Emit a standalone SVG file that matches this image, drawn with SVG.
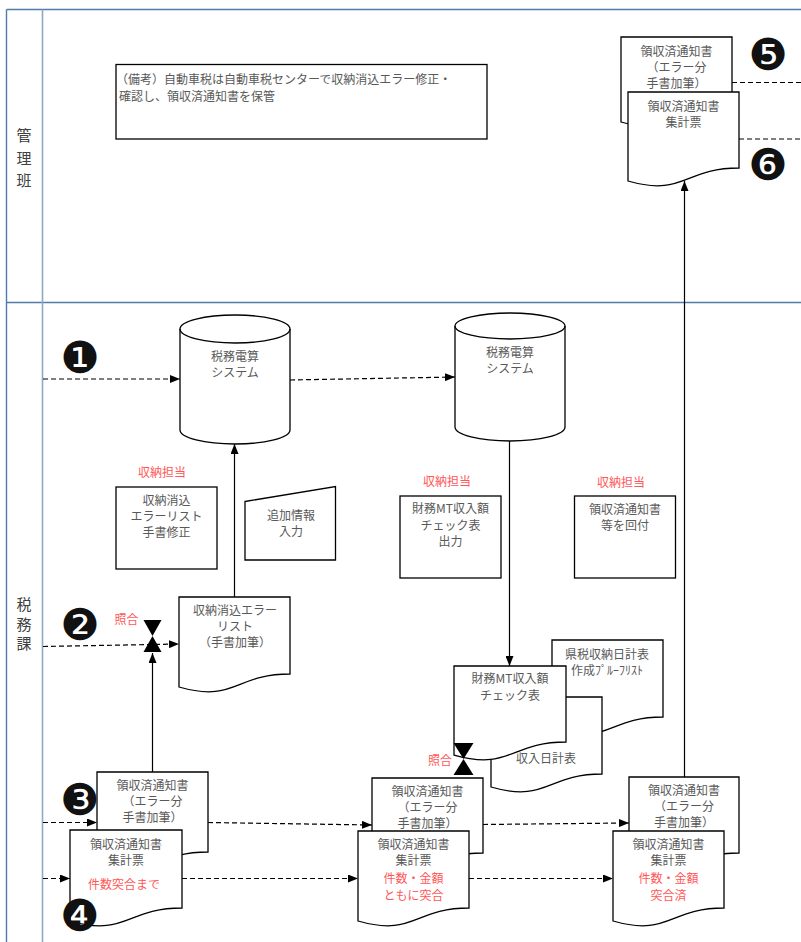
<svg xmlns="http://www.w3.org/2000/svg" width="801" height="942" viewBox="0 0 801 942">
<defs>
<marker id="ah" markerUnits="userSpaceOnUse" markerWidth="10" markerHeight="8" refX="10" refY="4" orient="auto"><path d="M0,0 L10,4 L0,8 Z" fill="#000"/></marker>
<style>
.lane{stroke:#4f7ba8;stroke-width:1.4;fill:none}
.lane2{stroke:#8aa9c9;stroke-width:1.6;fill:none}
.sh{fill:#fff;stroke:#000;stroke-width:1.3}
.t{font-family:"Noto Sans CJK JP",sans-serif;font-size:12px;fill:#595959;text-anchor:middle}
.r{font-family:"Noto Sans CJK JP",sans-serif;font-size:12px;fill:#ff5757;text-anchor:middle}
.ll{font-family:"Noto Sans CJK JP",sans-serif;font-size:15px;fill:#404040;text-anchor:middle}
.num{font-family:"DejaVu Sans",sans-serif;font-size:44px;fill:#111;text-anchor:middle}
.c{stroke:#000;stroke-width:1.2;fill:none}
.d{stroke:#000;stroke-width:1.2;fill:none;stroke-dasharray:5 3}
.hg{fill:#000}
</style>
</defs>
<rect width="801" height="942" fill="#fff"/>
<g id="lanes">
<line class="lane" x1="6.5" y1="9.5" x2="801" y2="9.5"/>
<line class="lane" x1="6.5" y1="302.5" x2="801" y2="302.5"/>
<line class="lane" x1="6.5" y1="9.5" x2="6.5" y2="942"/>
<line class="lane2" x1="42.5" y1="9.5" x2="42.5" y2="942"/>
<text class="ll" x="24" y="141">管</text>
<text class="ll" x="24" y="164">理</text>
<text class="ll" x="24" y="186">班</text>
<text class="ll" x="24" y="610">税</text>
<text class="ll" x="24" y="629.5">務</text>
<text class="ll" x="24" y="649">課</text>
</g>
<g id="note">
<rect class="sh" x="116" y="64.5" width="371" height="74.5"/>
<text class="t" style="text-anchor:start" x="116" y="84">（備考）自動車税は自動車税センターで収納消込エラー修正・</text>
<text class="t" style="text-anchor:start" x="119" y="101">確認し、領収済通知書を保管</text>
</g>
<g id="connectors">
<line class="d" x1="43" y1="379" x2="180" y2="379" marker-end="url(#ah)"/>
<line class="d" x1="290" y1="380" x2="455" y2="377" marker-end="url(#ah)"/>
<line class="c" x1="509.5" y1="441" x2="509.5" y2="666" marker-end="url(#ah)"/>
<line class="c" x1="234.5" y1="597" x2="234.5" y2="444" marker-end="url(#ah)"/>
<line class="c" x1="684.5" y1="777" x2="684.5" y2="181" marker-end="url(#ah)"/>
<line class="d" x1="43" y1="646.5" x2="179" y2="644" marker-end="url(#ah)"/>
<line class="c" x1="152.5" y1="772" x2="152.5" y2="653" marker-end="url(#ah)"/>
<line class="d" x1="43" y1="822.5" x2="97" y2="822.5" marker-end="url(#ah)"/>
<line class="d" x1="43" y1="878.5" x2="70" y2="878.5" marker-end="url(#ah)"/>
<line class="d" x1="208" y1="822.5" x2="372" y2="825" marker-end="url(#ah)"/>
<line class="d" x1="182" y1="878.5" x2="358" y2="878.5" marker-end="url(#ah)"/>
<line class="d" x1="483" y1="824.5" x2="629" y2="823" marker-end="url(#ah)"/>
<line class="d" x1="469" y1="878.5" x2="613" y2="878.5" marker-end="url(#ah)"/>
<line class="d" x1="732" y1="82.5" x2="801" y2="82.5"/>
<line class="d" x1="739" y1="139" x2="801" y2="139"/>
</g>
<g id="doc-tr1">
<path class="sh" d="M621,37 H732 V109 C676.5,109 676.5,138 621,122 Z"/>
<text class="t" x="676.5" y="56">領収済通知書</text>
<text class="t" x="676.5" y="72">（エラー分</text>
<text class="t" x="676.5" y="88">手書加筆）</text>
</g>
<g id="doc-tr2">
<path class="sh" d="M628,92 H739 V168 C683.5,168 683.5,197 628,181 Z"/>
<text class="t" x="683.5" y="110.5">領収済通知書</text>
<text class="t" x="683.5" y="126.5">集計票</text>
</g>
<g id="cyl1">
<path class="sh" d="M180,329 A55,14 0 0 1 290,329 V430 A55,14 0 0 1 180,430 Z"/>
<path class="c" style="stroke-width:1.3" d="M180,329 A55,14 0 0 0 290,329"/>
<text class="t" x="235" y="361">税務電算</text>
<text class="t" x="235" y="377">システム</text>
</g>
<g id="cyl2">
<path class="sh" d="M455,326 A55,13 0 0 1 565,326 V427 A55,14 0 0 1 455,427 Z"/>
<path class="c" style="stroke-width:1.3" d="M455,326 A55,13 0 0 0 565,326"/>
<text class="t" x="510" y="357">税務電算</text>
<text class="t" x="510" y="373">システム</text>
</g>
<g id="lbl-a"><text class="r" x="162" y="477">収納担当</text></g>
<g id="lbl-b"><text class="r" x="447" y="486">収納担当</text></g>
<g id="lbl-c"><text class="r" x="621" y="487">収納担当</text></g>
<g id="box-a">
<rect class="sh" x="116" y="487" width="101" height="82"/>
<text class="t" x="166.5" y="505">収納消込</text>
<text class="t" x="166.5" y="521">エラーリスト</text>
<text class="t" x="166.5" y="537">手書修正</text>
</g>
<g id="manual">
<path class="sh" d="M245,501.5 L335.5,486.5 V560 H245 Z"/>
<text class="t" x="291" y="520">追加情報</text>
<text class="t" x="291" y="536">入力</text>
</g>
<g id="box-b">
<rect class="sh" x="400" y="496" width="101" height="82"/>
<text class="t" x="450.5" y="513">財務MT収入額</text>
<text class="t" x="450.5" y="530">チェック表</text>
<text class="t" x="450.5" y="546">出力</text>
</g>
<g id="box-c">
<rect class="sh" x="574.5" y="496" width="101" height="82"/>
<text class="t" x="625" y="514">領収済通知書</text>
<text class="t" x="625" y="530">等を回付</text>
</g>
<g id="doc-errlist">
<path class="sh" d="M179,597 H290 V674 C234.5,674 234.5,703 179,687 Z"/>
<text class="t" x="235" y="614.5">収納消込エラー</text>
<text class="t" x="235" y="630.5">リスト</text>
<text class="t" x="235" y="646.5">（手書加筆）</text>
</g>
<g id="collate1">
<polygon class="hg" points="143.5,620 161.5,620 143.5,652 161.5,652"/>
<text class="r" x="126.5" y="624">照合</text>
</g>
<g id="doc-kenzei">
<path class="sh" d="M552,640 H663 V717 C607.5,717 607.5,746 552,730 Z"/>
<text class="t" x="607" y="658.5">県税収納日計表</text>
<text class="t" x="607" y="674.5">作成ﾌﾟﾙｰﾌﾘｽﾄ</text>
</g>
<g id="doc-shunyu">
<path class="sh" d="M491,697 H602 V774 C546.5,774 546.5,803 491,787 Z"/>
<text class="t" x="546" y="763">収入日計表</text>
</g>
<g id="doc-zaimu">
<path class="sh" d="M454,666 H566 V742 C510,742 510,771 454,755 Z"/>
<text class="t" x="510" y="683">財務MT収入額</text>
<text class="t" x="510" y="700">チェック表</text>
</g>
<g id="doc-l3">
<path class="sh" d="M97,772 H208 V852 C152.5,852 152.5,881 97,865 Z"/>
<text class="t" x="152.5" y="790">領収済通知書</text>
<text class="t" x="152.5" y="806">（エラー分</text>
<text class="t" x="152.5" y="822">手書加筆）</text>
</g>
<g id="doc-l4">
<path class="sh" d="M70,830 H182 V908 C126,908 126,937 70,921 Z"/>
<text class="t" x="126" y="849">領収済通知書</text>
<text class="t" x="126" y="865">集計票</text>
<text class="r" x="124" y="889">件数突合まで</text>
</g>
<g id="doc-m3">
<path class="sh" d="M372,778 H483 V853 C427.5,853 427.5,882 372,866 Z"/>
<text class="t" x="427.5" y="795.5">領収済通知書</text>
<text class="t" x="427.5" y="811.5">（エラー分</text>
<text class="t" x="427.5" y="827.5">手書加筆）</text>
</g>
<g id="collate2">
<polygon class="hg" points="453.5,743 473.5,743 453.5,775 473.5,775"/>
<text class="r" x="440" y="765">照合</text>
</g>
<g id="doc-m4">
<path class="sh" d="M358,831 H469 V908 C413.5,908 413.5,937 358,921 Z"/>
<text class="t" x="413.5" y="849">領収済通知書</text>
<text class="t" x="413.5" y="865">集計票</text>
<text class="r" x="413.5" y="883">件数・金額</text>
<text class="r" x="413.5" y="900">ともに突合</text>
</g>
<g id="doc-r3">
<path class="sh" d="M629,777 H739 V853 C684,853 684,882 629,866 Z"/>
<text class="t" x="684" y="795">領収済通知書</text>
<text class="t" x="684" y="811">（エラー分</text>
<text class="t" x="684" y="827">手書加筆）</text>
</g>
<g id="doc-r4">
<path class="sh" d="M613,831 H724 V908 C668.5,908 668.5,937 613,921 Z"/>
<text class="t" x="668.5" y="849">領収済通知書</text>
<text class="t" x="668.5" y="865">集計票</text>
<text class="r" x="668.5" y="883">件数・金額</text>
<text class="r" x="668.5" y="900">突合済</text>
</g>
<g id="num1"><text class="num" x="80" y="373">❶</text></g>
<g id="num2"><text class="num" x="80" y="640">❷</text></g>
<g id="num3"><text class="num" x="80" y="815">❸</text></g>
<g id="num4"><text class="num" x="80" y="931">❹</text></g>
<g id="num5"><text class="num" x="768" y="70">❺</text></g>
<g id="num6"><text class="num" x="768" y="180">❻</text></g>
</svg>
